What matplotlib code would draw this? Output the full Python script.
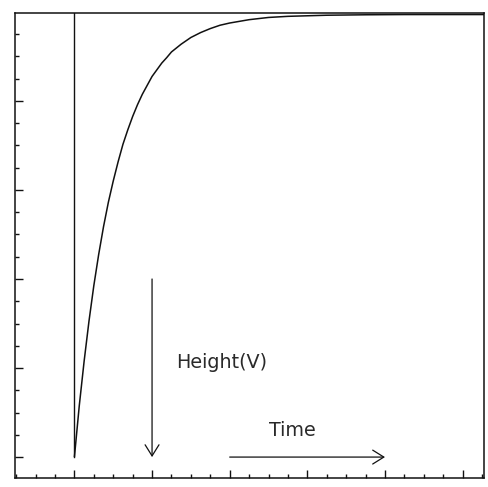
import matplotlib
matplotlib.use("Agg")
import matplotlib.pyplot as plt
from matplotlib.ticker import MultipleLocator, FixedLocator

# charging curve read in grid units (time on x, height on y)
time = [3.0, 3.25, 3.5, 3.75, 4.0, 4.25, 4.5, 4.75, 5.0, 5.25, 5.5, 5.75, 6.0,
        6.25, 6.5, 6.75, 7.0, 7.25, 7.5, 7.75, 8.0, 8.5, 9.0, 9.5, 10.0, 10.5,
        11.0, 12.0, 13.0, 14.0, 16.0, 18.0, 20.0, 22.0, 24.1]
height = [0.0, 2.3, 4.3, 6.1, 7.7, 9.1, 10.35, 11.45, 12.4, 13.26, 14.05, 14.7, 15.3,
          15.83, 16.3, 16.7, 17.1, 17.4, 17.7, 17.94, 18.2, 18.55, 18.85, 19.07, 19.25, 19.4,
          19.5, 19.65, 19.75, 19.8, 19.85, 19.87, 19.88, 19.88, 19.88]

# marker line and annotation arrows
start_x = 3.0
height_arrow = (7.0, 8.0, 0.0)      # x, from y, to y
time_arrow = (11.0, 19.0, 0.0)      # from x, to x, y
height_label = "Height(V)"
time_label = "Time"

x_major = [3, 7, 11, 15, 19, 23]
y_major = [0, 4, 8, 12, 16]

fig = plt.figure(figsize=(4.88, 4.87), dpi=100)
ax = fig.add_axes([15 / 488, 9 / 487, 469 / 488, 465 / 487])
ax.set_xlim(-0.06, 24.1)
ax.set_ylim(-0.94, 19.95)

ink = "#111111"
ax.plot(time, height, color=ink, lw=1.1, solid_capstyle="butt", solid_joinstyle="round")
ax.plot([start_x, start_x], [0.0, 19.95], color=ink, lw=1.0)

arrow_style = dict(arrowstyle="->,head_length=0.8,head_width=0.5", color=ink,
                   lw=0.9, shrinkA=0, shrinkB=0, mutation_scale=10)
hx, hy0, hy1 = height_arrow
ax.annotate("", xy=(hx, hy1), xytext=(hx, hy0), arrowprops=arrow_style)
tx0, tx1, ty = time_arrow
ax.annotate("", xy=(tx1, ty), xytext=(tx0, ty), arrowprops=arrow_style)

ax.text(8.25, 4.0, height_label, fontsize=13.8, color="#2a2a2a",
        ha="left", va="baseline", family="DejaVu Sans")
ax.text(13.05, 0.95, time_label, fontsize=13.8, color="#2a2a2a",
        ha="left", va="baseline", family="DejaVu Sans")

for s in ax.spines.values():
    s.set_linewidth(1.1)
    s.set_color(ink)

ax.xaxis.set_major_locator(FixedLocator(x_major))
ax.xaxis.set_minor_locator(MultipleLocator(1))
ax.yaxis.set_major_locator(FixedLocator(y_major))
ax.yaxis.set_minor_locator(MultipleLocator(1))
ax.tick_params(which="both", direction="in", top=False, right=False,
               labelbottom=False, labelleft=False, color=ink, width=1.0)
ax.tick_params(which="major", length=6)
ax.tick_params(which="minor", length=3)

fig.savefig("out.png", dpi=100)
